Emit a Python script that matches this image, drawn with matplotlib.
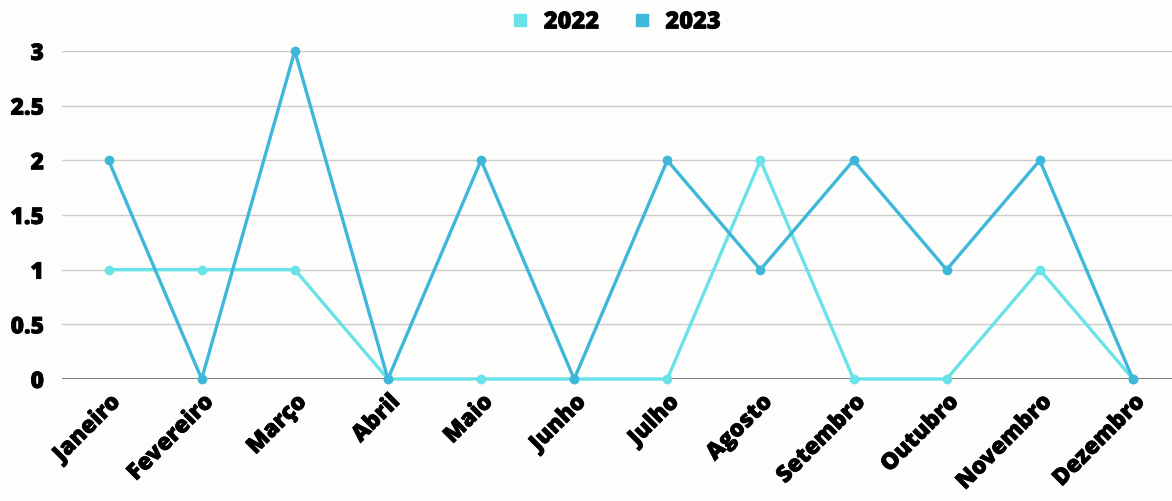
import matplotlib
matplotlib.use("Agg")
import matplotlib.pyplot as plt
from matplotlib.lines import Line2D
from matplotlib.font_manager import FontProperties
import matplotlib.patheffects as pe

months = ["Janeiro", "Fevereiro", "Março", "Abril", "Maio", "Junho", "Julho",
          "Agosto", "Setembro", "Outubro", "Novembro", "Dezembro"]
series_names = ["2022", "2023"]
values_2022 = [1, 1, 1, 0, 0, 0, 0, 2, 0, 0, 1, 0]
values_2023 = [2, 0, 3, 0, 2, 0, 2, 1, 2, 1, 2, 0]
y_ticks = [0, 0.5, 1, 1.5, 2, 2.5, 3]
y_tick_labels = ["0", "0.5", "1", "1.5", "2", "2.5", "3"]

c2022 = "#6ae2ea"
c2023 = "#3fb7d9"
bg = "#fdfefc"

plt.rcParams['font.family'] = ['Open Sans', 'DejaVu Sans']

def fp(size):
    return FontProperties(family=['Open Sans', 'DejaVu Sans'], weight=800,
                          stretch='normal', size=size)

heavy = [pe.withStroke(linewidth=0.55, foreground='black')]

fig = plt.figure(figsize=(11.72, 5.01), dpi=100, facecolor=bg)
ax = fig.add_axes([62/1172, 1-379/501, 1-62/1172, (379-51)/501])
ax.set_facecolor(bg)

x = list(range(len(months)))
ax.plot(x, values_2022, color=c2022, lw=2.4, marker='o', ms=6, clip_on=False, zorder=3)
ax.plot(x, values_2023, color=c2023, lw=2.4, marker='o', ms=6, clip_on=False, zorder=4)

ax.set_xlim(-0.5, 11.42)
ax.set_ylim(0, 3)
ax.set_yticks(y_ticks)
ax.set_yticklabels(y_tick_labels, fontproperties=fp(16.5))
ax.set_xticks(x)
ax.set_xticklabels(months, rotation=45, ha='right', rotation_mode='anchor',
                   fontproperties=fp(16.5))
for t in ax.get_xticklabels() + ax.get_yticklabels():
    t.set_path_effects(heavy)
ax.tick_params(axis='both', length=0)
ax.tick_params(axis='y', pad=13)
ax.tick_params(axis='x', pad=8)
for s in ax.spines.values():
    s.set_visible(False)
ax.grid(axis='y', color='#cccccc', lw=1)
ax.axhline(0, color='#666666', lw=1.2, zorder=2)

handles = [Line2D([], [], ls='none', marker='s', ms=8, color=c2022),
           Line2D([], [], ls='none', marker='s', ms=8, color=c2023)]
leg = fig.legend(handles, series_names, loc='center', bbox_to_anchor=(617/1172, 1-22/501),
                 ncol=2, frameon=False, prop=fp(17),
                 handletextpad=0.7, columnspacing=1.5, handlelength=0.6)
for t in leg.get_texts():
    t.set_path_effects(heavy)

fig.savefig("out.png", dpi=100, facecolor=bg)
